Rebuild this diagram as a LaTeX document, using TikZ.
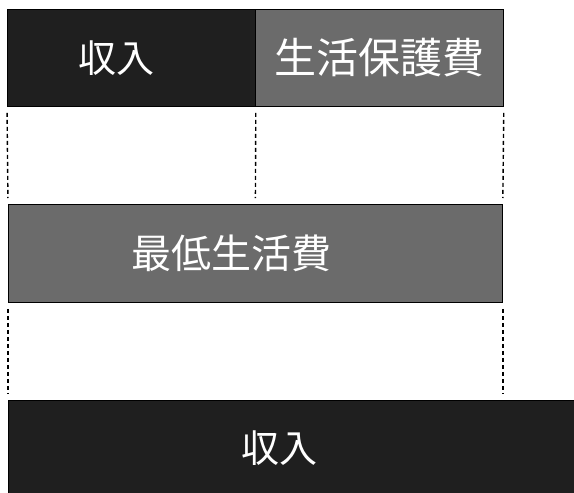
\documentclass[tikz,border=0pt]{standalone}
\usepackage{fontspec}
\setmainfont{Noto Sans CJK JP}
\usepackage{tikz}

\begin{document}
\begin{tikzpicture}[x=1pt, y=-1pt,
        darkbox/.style={fill=black!88, draw=black, line width=.8pt, anchor=north west, inner sep=0},
        greybox/.style={fill=black!58, draw=black, line width=.8pt, anchor=north west, inner sep=0},
        boxtext/.style={text=white, font=\fontsize{38}{40}\selectfont},
        guide/.style={line width=1.4pt, dash pattern=on 4pt off 3pt, shorten <=6pt, shorten >=6pt}]
        \useasboundingbox (0,0) rectangle (574,493);
        \node [darkbox, minimum width=248, minimum height=97, label={[boxtext, xshift=-15pt]center:収入}] (income) at (7,9) {};
        \node [greybox, minimum width=248, minimum height=97, label={[boxtext, font=\fontsize{42}{44}\selectfont]center:生活保護費}] (welfare) at (255,9) {};
        \node [greybox, minimum width=494, minimum height=98, label={[boxtext, font=\fontsize{40}{42}\selectfont, xshift=-24pt]center:最低生活費}] (minimum) at (8,204) {};
        \node [darkbox, minimum width=590, minimum height=100, label={[boxtext, xshift=-24pt, yshift=2pt]center:収入}] (income2) at (8,400) {};
        \coordinate (rightend) at (minimum.south east |- income2.north);
        \draw [guide] (income.south west) to (minimum.north west);
        \draw [guide] (income.south east) to (minimum.north);
        \draw [guide] (welfare.south east) to (minimum.north east);
        \draw [guide] (minimum.south west) to (income2.north west);
        \draw [guide] (minimum.south east) to (rightend);
    \end{tikzpicture}
\end{document}
